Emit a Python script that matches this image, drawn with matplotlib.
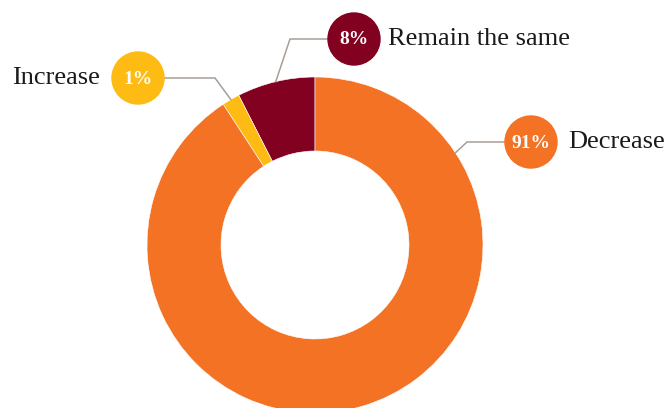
import numpy as np
import matplotlib.pyplot as plt
from matplotlib.patches import Circle

# shares of the ring, counter-clockwise from 12 o'clock
categories = ["Remain the same", "Increase", "Decrease"]
shares = [7.5, 1.7, 90.8]
pct_labels = ["8%", "1%", "91%"]
colors = ["#820020", "#FDBB13", "#F37224"]

W, H = 667, 408
fig = plt.figure(figsize=(W / 100, H / 100), dpi=100)
ax = fig.add_axes([0, 0, 1, 1])

cx, cy = 315, H - 245
R, r_in = 168, 94
wedges, _ = ax.pie(shares, colors=colors, startangle=90, counterclock=True,
                   radius=R, center=(cx, cy), frame=True,
                   wedgeprops=dict(width=R - r_in, edgecolor="white", linewidth=0.4))
ax.set_xlim(0, W)
ax.set_ylim(0, H)
ax.set_aspect("equal")
ax.axis("off")

# label layout: anchor angle on the ring, elbow point, bubble centre, text gap
anchor_ang = [(w.theta1 + w.theta2) / 2 for w in wedges]
anchor_ang[2] = 33.3
elbows = [(290, H - 39), (215, H - 78), (467, H - 142)]
bubbles = [(354, H - 39), (138, H - 78), (531, H - 142)]
gaps = [8, 12, 11]
bub_r = 26
line_col = "#A79E97"
serif = "Liberation Serif"

for i, cat in enumerate(categories):
    a = np.deg2rad(anchor_ang[i])
    ax_, ay_ = cx + R * np.cos(a), cy + R * np.sin(a)
    bx, by = bubbles[i]
    ex, ey = elbows[i]
    right = ex < bx
    edge = bx - bub_r if right else bx + bub_r
    ax.plot([ax_, ex, edge], [ay_, ey, ey], color=line_col, lw=1.1, zorder=1,
            solid_joinstyle="miter")
    ax.add_patch(Circle((bx, by), bub_r, color=colors[i], zorder=3))
    ax.text(bx, by - 1, pct_labels[i], color="white", fontsize=14,
            fontweight="bold", family=serif, ha="center", va="center", zorder=4)
    if right:
        ax.text(bx + bub_r + gaps[i], by, cat, fontsize=19, family=serif,
                color="#1a1a1a", ha="left", va="center")
    else:
        ax.text(bx - bub_r - gaps[i], by, cat, fontsize=19, family=serif,
                color="#1a1a1a", ha="right", va="center")

fig.savefig("out.png", dpi=100)
